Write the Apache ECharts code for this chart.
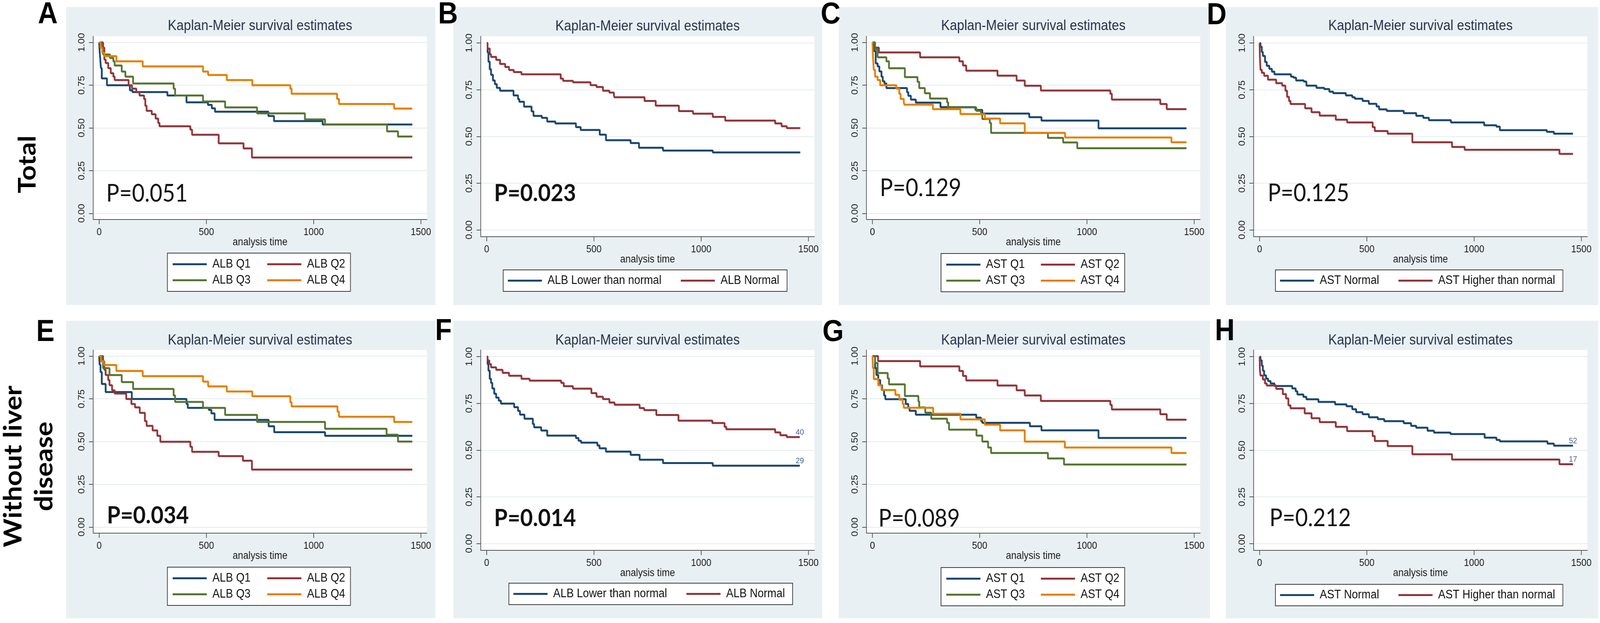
<!DOCTYPE html>
<html><head><meta charset="utf-8">
<script src="https://cdn.jsdelivr.net/npm/echarts@6/dist/echarts.min.js"></script>
<style>html,body{margin:0;padding:0;background:#fff;overflow:hidden}#c{width:4550px;height:1595px;transform-origin:0 0}</style>
</head><body><div id="c"></div>
<script>
// ---------------- DATA (time in days, survival probability) ----------------
const xTicks = [0, 500, 1000, 1500];
const yTicks = [0, 0.25, 0.5, 0.75, 1];
const panelLetters = ['A','B','C','D','E','F','G','H'];
const panelTitle = 'Kaplan-Meier survival estimates';
const xAxisName = 'analysis time';
const rowLabels = ['Total', 'Without liver\ndisease'];
const pValues = ['P=0.051','P=0.023','P=0.129','P=0.125','P=0.034','P=0.014','P=0.089','P=0.212'];
const pBold = [false,true,false,false,true,true,false,false];
const albQNames = ['ALB Q1','ALB Q2','ALB Q3','ALB Q4'];
const astQNames = ['AST Q1','AST Q2','AST Q3','AST Q4'];
const albBinNames = ['ALB Lower than normal','ALB Normal'];
const astBinNames = ['AST Normal','AST Higher than normal'];
const F_atRisk = [29, 40];
const H_atRisk = [52, 17];

// Panel A: Total, ALB quartiles
const A_Q1 = [[0,1],[2,0.95],[5,0.90],[8,0.85],[12,0.79],[36,0.75],[143,0.72],[155,0.71],[318,0.69],[407,0.65],[507,0.635],[525,0.615],[540,0.595],[789,0.57],[815,0.54],[1042,0.52],[1460,0.52]];
const A_Q2 = [[0,1],[18,0.97],[24,0.90],[30,0.88],[42,0.85],[54,0.82],[66,0.80],[72,0.78],[137,0.75],[153,0.73],[173,0.71],[188,0.69],[209,0.67],[215,0.63],[221,0.60],[245,0.58],[263,0.555],[275,0.53],[281,0.51],[425,0.49],[433,0.46],[557,0.41],[673,0.38],[712,0.327],[1460,0.327]];
const A_Q3 = [[0,1],[10,0.97],[18,0.93],[50,0.91],[66,0.89],[72,0.865],[105,0.83],[122,0.80],[158,0.76],[347,0.73],[354,0.69],[484,0.655],[587,0.62],[736,0.585],[959,0.55],[1053,0.52],[1342,0.48],[1393,0.45],[1460,0.45]];
const A_Q4 = [[0,1],[6,0.97],[14,0.94],[24,0.92],[80,0.89],[203,0.86],[484,0.83],[508,0.81],[595,0.78],[714,0.75],[891,0.73],[897,0.70],[1109,0.67],[1118,0.64],[1375,0.613],[1460,0.613]];
// Panel B: Total, ALB binary
const B_low = [[0,1],[4,0.95],[8,0.90],[14,0.86],[20,0.83],[29,0.80],[38,0.78],[47,0.76],[62,0.745],[125,0.72],[146,0.70],[152,0.686],[174,0.66],[209,0.635],[218,0.61],[257,0.60],[282,0.58],[320,0.57],[416,0.55],[438,0.535],[527,0.51],[556,0.48],[671,0.465],[710,0.44],[822,0.425],[1054,0.415],[1462,0.415]];
const B_norm = [[0,1],[4,0.97],[14,0.94],[20,0.926],[44,0.91],[62,0.888],[86,0.872],[104,0.856],[126,0.845],[162,0.833],[345,0.81],[356,0.798],[402,0.79],[484,0.775],[512,0.765],[542,0.745],[572,0.735],[593,0.72],[596,0.71],[736,0.69],[788,0.665],[896,0.636],[962,0.622],[1054,0.605],[1112,0.585],[1345,0.57],[1375,0.555],[1399,0.545],[1462,0.545]];
// Panel C: Total, AST quartiles
const C_Q1 = [[0,1],[6,0.95],[15,0.878],[24,0.86],[32,0.831],[42,0.80],[48,0.773],[56,0.76],[65,0.733],[161,0.709],[167,0.688],[179,0.666],[202,0.648],[317,0.622],[480,0.605],[512,0.584],[731,0.563],[788,0.543],[1054,0.498],[1464,0.498]];
const C_Q2 = [[0,1],[12,0.97],[30,0.942],[222,0.913],[405,0.89],[422,0.865],[437,0.835],[583,0.806],[672,0.777],[710,0.747],[785,0.719],[1109,0.70],[1116,0.666],[1342,0.64],[1372,0.61],[1464,0.61]];
const C_Q3 = [[0,1],[12,0.96],[24,0.913],[65,0.89],[77,0.849],[151,0.797],[210,0.77],[218,0.733],[244,0.703],[268,0.672],[348,0.65],[353,0.62],[484,0.60],[506,0.58],[512,0.552],[547,0.529],[553,0.471],[818,0.442],[889,0.415],[955,0.381],[1464,0.381]];
const C_Q4 = [[0,1],[3,0.90],[6,0.84],[12,0.80],[24,0.78],[36,0.75],[111,0.73],[125,0.70],[131,0.67],[146,0.65],[149,0.636],[282,0.61],[410,0.581],[524,0.555],[595,0.527],[710,0.471],[898,0.444],[1394,0.416],[1464,0.416]];
// Panel D: Total, AST binary
const D_norm = [[0,1],[4,0.98],[10,0.952],[15,0.931],[25,0.899],[33,0.878],[45,0.862],[57,0.847],[69,0.833],[146,0.82],[158,0.815],[170,0.80],[206,0.794],[218,0.772],[265,0.76],[301,0.754],[325,0.74],[343,0.732],[402,0.72],[432,0.71],[444,0.702],[480,0.69],[509,0.675],[545,0.661],[557,0.645],[593,0.637],[672,0.625],[730,0.611],[763,0.60],[789,0.587],[892,0.575],[1047,0.56],[1104,0.553],[1120,0.534],[1339,0.525],[1372,0.515],[1461,0.515]];
const D_high = [[0,1],[1,0.93],[4,0.857],[10,0.841],[21,0.825],[39,0.804],[77,0.785],[105,0.772],[120,0.745],[128,0.712],[137,0.69],[144,0.674],[212,0.651],[242,0.63],[280,0.612],[355,0.59],[408,0.575],[527,0.55],[537,0.529],[597,0.515],[712,0.469],[897,0.444],[956,0.429],[1398,0.407],[1461,0.407]];
// Panel E: Without liver disease, ALB quartiles
const E_Q1 = [[0,1],[2,0.95],[6,0.907],[12,0.837],[30,0.79],[152,0.749],[407,0.72],[413,0.697],[511,0.685],[523,0.665],[538,0.627],[790,0.59],[816,0.555],[1053,0.534],[1460,0.534]];
const E_Q2 = [[0,1],[18,0.97],[24,0.92],[30,0.89],[42,0.86],[48,0.83],[60,0.80],[72,0.781],[126,0.749],[150,0.72],[167,0.70],[189,0.668],[213,0.62],[221,0.592],[249,0.565],[271,0.534],[285,0.499],[425,0.47],[433,0.44],[557,0.415],[670,0.388],[712,0.336],[1460,0.336]];
const E_Q3 = [[0,1],[12,0.97],[18,0.93],[48,0.889],[105,0.848],[158,0.808],[347,0.77],[354,0.732],[484,0.697],[587,0.656],[736,0.615],[1053,0.575],[1340,0.54],[1393,0.50],[1460,0.50]];
const E_Q4 = [[0,1],[8,0.97],[22,0.948],[80,0.913],[203,0.883],[484,0.851],[508,0.823],[595,0.793],[714,0.765],[891,0.73],[897,0.706],[1111,0.675],[1118,0.645],[1375,0.615],[1460,0.615]];
// Panel F: Without liver disease, ALB binary
const F_low = [[0,1],[4,0.96],[8,0.925],[14,0.882],[20,0.86],[26,0.83],[35,0.802],[44,0.781],[56,0.765],[66,0.749],[128,0.73],[146,0.71],[155,0.69],[176,0.668],[215,0.64],[221,0.622],[254,0.605],[282,0.578],[416,0.565],[428,0.55],[440,0.54],[516,0.525],[526,0.51],[556,0.492],[671,0.475],[713,0.449],[822,0.431],[1054,0.417],[1460,0.417]];
const F_norm = [[0,1],[4,0.98],[12,0.96],[20,0.943],[44,0.93],[74,0.914],[104,0.898],[162,0.882],[200,0.872],[347,0.86],[359,0.842],[402,0.829],[488,0.805],[512,0.786],[542,0.773],[572,0.755],[596,0.743],[713,0.725],[734,0.714],[791,0.688],[894,0.658],[1052,0.645],[1109,0.625],[1117,0.612],[1345,0.595],[1369,0.58],[1399,0.57],[1460,0.57]];
// Panel G: Without liver disease, AST quartiles
const G_Q1 = [[0,1],[12,0.93],[18,0.89],[27,0.86],[36,0.83],[45,0.802],[54,0.77],[60,0.748],[155,0.72],[167,0.698],[173,0.68],[202,0.657],[484,0.64],[506,0.62],[512,0.61],[734,0.59],[788,0.566],[1054,0.521],[1464,0.521]];
const G_Q2 = [[0,1],[26,0.971],[222,0.94],[405,0.913],[422,0.884],[437,0.858],[583,0.828],[672,0.80],[710,0.77],[785,0.738],[1109,0.715],[1116,0.688],[1342,0.66],[1372,0.628],[1464,0.628]];
const G_Q3 = [[0,1],[12,0.96],[24,0.901],[71,0.87],[77,0.835],[151,0.767],[214,0.735],[218,0.70],[246,0.669],[274,0.634],[348,0.61],[357,0.57],[485,0.535],[512,0.50],[539,0.465],[553,0.433],[818,0.401],[893,0.366],[1464,0.366]];
const G_Q4 = [[0,1],[2,0.93],[6,0.866],[27,0.83],[42,0.802],[107,0.773],[125,0.745],[141,0.72],[146,0.698],[283,0.663],[410,0.63],[524,0.599],[595,0.566],[710,0.50],[897,0.465],[1394,0.433],[1464,0.433]];
// Panel H: Without liver disease, AST binary
const H_norm = [[0,1],[4,0.98],[10,0.952],[15,0.925],[21,0.90],[30,0.883],[39,0.87],[51,0.857],[69,0.843],[152,0.83],[168,0.815],[176,0.798],[204,0.785],[218,0.772],[274,0.758],[352,0.745],[405,0.735],[432,0.719],[450,0.703],[480,0.692],[509,0.676],[551,0.666],[581,0.655],[672,0.644],[706,0.63],[730,0.62],[783,0.604],[813,0.594],[890,0.586],[1049,0.567],[1104,0.555],[1120,0.547],[1342,0.535],[1372,0.524],[1461,0.524]];
const H_high = [[0,1],[1,0.93],[4,0.899],[15,0.878],[25,0.857],[33,0.846],[77,0.828],[108,0.80],[123,0.777],[134,0.74],[144,0.724],[210,0.697],[242,0.671],[280,0.65],[355,0.625],[408,0.602],[527,0.575],[537,0.549],[597,0.522],[712,0.478],[897,0.45],[1398,0.425],[1461,0.425]];

// ---------------- LAYOUT / STYLE ----------------
const FONT = 'Liberation Sans';
const PFONT = 'Lato';
const NAVY = '#1A476F', MAROON = '#90353B', GREEN = '#55752F', ORANGE = '#E37E00';
const col4 = [NAVY, MAROON, GREEN, ORANGE];
const col2 = [NAVY, MAROON];
const BG = '#E9F0F3';
const GW = 949;
const panels = [
  {bg:[188,18,1050,763],  gl:265,  gt:93,  gh:469, names:albQNames,   curves:[A_Q1,A_Q2,A_Q3,A_Q4], colors:col4, lg:[476,648],  p:[302,496],  letter:[136,38],  titleY:67},
  {bg:[1289,18,1049,763], gl:1367, gt:93,  gh:513, names:albBinNames, curves:[B_low,B_norm],        colors:col2, lg:[1431,691], p:[1405,495], letter:[1274,38], titleY:68},
  {bg:[2385,18,1056,763], gl:2464, gt:93,  gh:469, names:astQNames,   curves:[C_Q1,C_Q2,C_Q3,C_Q4], colors:col4, lg:[2676,649], p:[2502,482], letter:[2362,38], titleY:67},
  {bg:[3486,18,1059,763], gl:3565, gt:93,  gh:513, names:astBinNames, curves:[D_norm,D_high],       colors:col2, lg:[3627,691], p:[3605,495], letter:[3460,40], titleY:67},
  {bg:[188,821,1050,762],  gl:265,  gt:896, gh:469, names:albQNames,   curves:[E_Q1,E_Q2,E_Q3,E_Q4], colors:col4, lg:[476,1452],  p:[304,1320], letter:[129,851],  titleY:872},
  {bg:[1289,821,1049,762], gl:1367, gt:896, gh:513, names:albBinNames, curves:[F_low,F_norm],        colors:col2, lg:[1447,1493], p:[1405,1327], letter:[1261,849], titleY:872, atRisk:F_atRisk},
  {bg:[2385,821,1056,762], gl:2464, gt:896, gh:469, names:astQNames,   curves:[G_Q1,G_Q2,G_Q3,G_Q4], colors:col4, lg:[2676,1453], p:[2498,1328], letter:[2369,851], titleY:872},
  {bg:[3486,821,1059,762], gl:3565, gt:896, gh:513, names:astBinNames, curves:[H_norm,H_high],       colors:col2, lg:[3627,1496], p:[3610,1327], letter:[3483,849], titleY:872, atRisk:H_atRisk}
];

const option = {animation:false, backgroundColor:'#fff', grid:[], xAxis:[], yAxis:[], series:[], legend:[], graphic:{elements:[]}};
const G = option.graphic.elements;
const axisLineStyle = {color:'#555', width:2};

panels.forEach((p, i) => {
  G.push({type:'rect', shape:{x:p.bg[0], y:p.bg[1], width:p.bg[2], height:p.bg[3]}, style:{fill:BG}, z:-10, silent:true});
  G.push({type:'rect', shape:{x:p.gl, y:p.gt, width:GW, height:p.gh}, style:{fill:'#fff'}, z:-9, silent:true});
  G.push({type:'text', x:p.gl + GW/2, y:p.titleY, z:10, silent:true,
    style:{text:panelTitle, fontFamily:FONT, fontSize:37, fill:'#26324d', align:'center', verticalAlign:'middle'}});
  G.push({type:'text', x:p.p[0], y:p.p[1], z:10, silent:true,
    style:{text:pValues[i], fontFamily:PFONT, fontSize:62, fontWeight:pBold[i]?'bold':'normal', fill:'#111', align:'left', verticalAlign:'middle'}});
  G.push({type:'text', x:p.letter[0], y:p.letter[1], z:10, silent:true,
    style:{text:panelLetters[i], fontFamily:FONT, fontSize:78, fontWeight:'bold', fill:'#000', align:'center', verticalAlign:'middle'}});

  option.grid.push({left:p.gl, top:p.gt, width:GW, height:p.gh, containLabel:false, outerBoundsMode:'none', show:false});
  option.xAxis.push({type:'value', gridIndex:i, min:-28, max:1528,
    name:xAxisName, nameLocation:'middle', nameGap:45, nameMoveOverlap:false,
    nameTextStyle:{fontFamily:FONT, fontSize:27, color:'#1a1a1a'},
    axisLine:{show:true, onZero:false, lineStyle:axisLineStyle},
    axisTick:{show:true, length:12, customValues:xTicks, lineStyle:axisLineStyle},
    axisLabel:{show:true, customValues:xTicks, margin:20, fontFamily:FONT, fontSize:26, color:'#1a1a1a', formatter:v => String(Math.round(v))},
    splitLine:{show:false}});
  option.yAxis.push({type:'value', gridIndex:i, min:-0.036, max:1.036,
    axisLine:{show:true, onZero:false, lineStyle:axisLineStyle},
    axisTick:{show:true, length:12, customValues:yTicks, lineStyle:axisLineStyle},
    axisLabel:{show:true, customValues:yTicks, rotate:90, margin:19, fontFamily:FONT, fontSize:25, color:'#1a1a1a',
      formatter:v => Number(v).toFixed(2)},
    splitLine:{show:true, lineStyle:{color:'#E4ECEF', width:2}}});

  p.curves.forEach((data, k) => {
    const s = {type:'line', name:p.names[k], xAxisIndex:i, yAxisIndex:i, data:data, step:'end',
      showSymbol:false, symbol:'none', color:p.colors[k], lineStyle:{width:5, color:p.colors[k]},
      silent:true, emphasis:{disabled:true}, z:3};
    if (p.atRisk) {
      s.markPoint = {symbol:'circle', symbolSize:1, silent:true, itemStyle:{color:'rgba(0,0,0,0)'},
        label:{show:true, position:'top', distance:1, formatter:String(p.atRisk[k]), fontFamily:FONT, fontSize:21, color:'#3f5f88'},
        data:[{coord:data[data.length-1]}]};
    }
    option.series.push(s);
  });

  const common = {left:p.lg[0], top:p.lg[1], itemWidth:97, itemHeight:5, icon:'rect', selectedMode:false,
    backgroundColor:'#fff', borderColor:'#3a3a3a', borderWidth:2, borderRadius:0, z:6,
    textStyle:{fontFamily:FONT, fontSize:31, color:'#111', lineHeight:31, padding:[0,0,0,11]}};
  if (p.names.length === 4) {
    option.legend.push(Object.assign({}, common, {orient:'vertical', height:75, itemGap:10, padding:[13,15,13,15],
      data:[{name:p.names[0], textStyle:{width:146}}, {name:p.names[2], textStyle:{width:146}}, {name:p.names[1]}, {name:p.names[3]}]}));
  } else {
    option.legend.push(Object.assign({}, common, {orient:'horizontal', itemGap:55, padding:[12,22,12,13],
      data:[p.names[0], p.names[1]]}));
  }
});

G.push({type:'text', x:79, y:421, rotation:Math.PI/2, z:10, silent:true,
  style:{text:rowLabels[0], fontFamily:PFONT, fontSize:68, fontWeight:'bold', fill:'#000', align:'center', verticalAlign:'middle'}});
G.push({type:'text', x:82, y:1194, rotation:Math.PI/2, z:10, silent:true,
  style:{text:rowLabels[1], fontFamily:PFONT, fontSize:70, fontWeight:'bold', fill:'#000', align:'center', verticalAlign:'middle', lineHeight:88}});

// The figure is laid out on a 4550x1595 page; if the viewport is smaller, fit it to the viewport.
const box = document.getElementById('c');
const sx = (window.innerWidth || 4550) / 4550, sy = (window.innerHeight || 1595) / 1595;
if (Math.abs(sx - 1) > 1e-3 || Math.abs(sy - 1) > 1e-3) box.style.transform = 'scale(' + sx + ',' + sy + ')';

const chart = echarts.init(box, null, {renderer:'canvas', width:4550, height:1595});
chart.setOption(option);
</script>
</body></html>
